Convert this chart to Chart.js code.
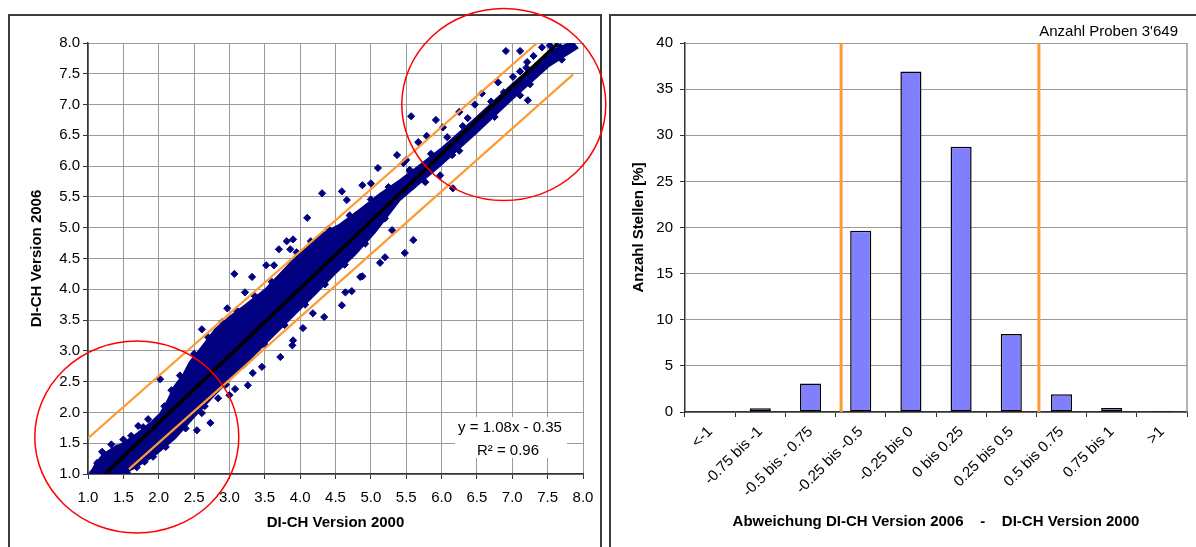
<!DOCTYPE html>
<html>
<head>
<meta charset="utf-8">
<script src="https://cdn.jsdelivr.net/npm/chart.js@4.4.1/dist/chart.umd.min.js"></script>
<style>
  html, body { margin: 0; padding: 0; background: #fff; overflow: hidden; }
  body { width: 1196px; height: 547px; position: relative; }
  .frame { position: absolute; border: 2px solid #3c3c3c; box-sizing: border-box; }
  #frameLeft { left: 8px; top: 14px; width: 594px; height: 600px; }
  #frameRight { left: 609px; top: 14px; width: 620px; height: 600px; }
  canvas { position: absolute; top: 0; }
  #scatter { left: 0; }
  #hist { left: 608px; }
</style>
</head>
<body>
<div class="frame" id="frameLeft"></div>
<div class="frame" id="frameRight"></div>
<canvas id="scatter" width="608" height="547"></canvas>
<canvas id="hist" width="588" height="547"></canvas>
<script>
// ---- left chart: DI-CH 2000 vs 2006 ----
// dense core of the cloud (upper edge left->right, then lower edge right->left)
const denseUpper = [[1.03,1.0],[1.1,1.15],[1.2,1.3],[1.35,1.42],[1.5,1.5],[1.7,1.66],[1.9,1.85],[2.02,1.98],
  [2.12,2.18],[2.22,2.42],[2.35,2.62],[2.44,2.82],[2.6,3.05],[2.8,3.35],[3.0,3.55],[3.22,3.74],[3.5,3.99],
  [3.79,4.34],[4.0,4.6],[4.28,4.88],[4.56,5.05],[4.85,5.3],[5.13,5.55],[5.41,5.77],[5.7,6.02],[5.99,6.28],
  [6.5,6.8],[7.0,7.33],[7.51,7.85],[7.85,8.02]];
const denseLower = [[7.92,7.92],[7.51,7.62],[7.0,7.09],[6.5,6.55],[5.99,6.02],[5.41,5.45],[5.06,4.93],
  [4.78,4.57],[4.49,4.25],[4.21,3.92],[3.93,3.6],[3.64,3.27],[3.36,2.95],[3.08,2.62],[2.8,2.3],[2.51,1.94],
  [2.23,1.58],[1.95,1.31],[1.66,1.1],[1.42,0.97],[1.1,0.97]];
// single samples visible around the core
const samplePoints = [
  [1.07,1.03],[1.13,1.18],[1.27,1.31],[1.41,1.42],[1.61,1.62],[1.71,1.78],[1.85,1.89],[2.02,2.54],
  [2.61,3.35],[2.97,3.69],[3.07,4.25],[3.22,3.95],[3.32,4.2],[3.52,4.39],[3.63,4.39],[3.7,4.65],
  [3.81,4.78],[3.9,4.81],[3.86,4.65],[1.69,1.11],[1.92,1.28],[2.33,1.76],[2.54,1.71],[2.61,1.99],
  [2.73,1.83],[2.84,2.23],[3.0,2.28],[3.08,2.38],[3.26,2.44],[3.33,2.64],[3.46,2.74],[3.72,2.9],
  [3.89,3.09],[3.9,3.17],[4.04,3.37],[4.18,3.61],[4.34,3.55],[4.59,3.74],[4.64,3.95],[4.73,3.97],
  [4.88,4.21],[4.1,5.16],[4.31,5.56],[4.59,5.59],[4.66,5.45],[4.88,5.69],[5.0,5.72],[5.1,5.97],
  [5.37,6.18],[5.5,6.1],[5.55,5.94],[5.6,5.69],[5.77,5.74],[5.67,6.39],[5.79,6.49],[5.92,6.75],
  [5.57,6.81],[5.98,5.85],[6.15,6.18],[6.16,5.64],[6.08,6.47],[6.25,6.88],[6.37,6.78],[6.47,7.0],
  [6.57,7.18],[6.66,6.83],[6.8,7.36],[6.88,7.2],[6.97,7.15],[7.11,7.15],[7.22,7.07],[7.01,7.45],
  [7.11,7.54],[7.3,7.53],[7.42,7.59],[7.21,7.69],[7.3,7.79],[7.49,7.72],[7.58,7.8],[6.91,7.87],
  [7.11,7.87],[7.42,7.93],[7.53,7.96],[7.83,7.98],[7.68,7.93],[6.02,6.63],[6.15,6.29],[5.46,6.05],
  [5.3,4.96],[5.6,4.8],[5.48,4.59],[5.13,4.43],[5.2,4.52],[4.85,4.2],
  // ragged upper rim of the core
  [1.2,1.36],[1.33,1.48],[1.5,1.56],[1.78,1.76],[2.08,2.1],[2.18,2.36],[2.3,2.6],[2.5,2.95],[2.7,3.22],
  [2.9,3.47],[3.1,3.66],[3.35,3.9],[3.6,4.12],[3.95,4.6],[4.15,4.78],[4.4,4.98],[4.7,5.2],[5.0,5.46],
  [5.25,5.66],[5.55,5.92],[5.85,6.2],[6.3,6.65],[6.7,7.05],[7.2,7.6],
  // ragged lower rim of the core
  [1.55,1.03],[1.8,1.2],[2.1,1.44],[2.38,1.74],[2.65,2.1],[2.95,2.45],[3.2,2.77],[3.5,3.1],[3.78,3.42],
  [4.07,3.75],[4.35,4.08],[4.63,4.4],[4.92,4.74],[5.2,5.15],[5.6,5.68],[6.25,6.25],[6.75,6.8],[7.25,7.33],
  [7.7,7.73]
];
const trendLine = [[1.24,1.0],[7.65,8.0]];
const upperLimit = [[1.0,1.58],[7.35,8.0]];
const lowerLimit = [[1.58,1.08],[7.86,7.49]];
const circleCenters = [[1.69,1.6],[6.88,7.0]];
const regressionText = 'y = 1.08x - 0.35';
const r2Text = 'R² = 0.96';

// ---- right chart: histogram of differences ----
const classLabels = ['<-1','-0.75 bis -1','-0.5 bis - 0.75','-0.25 bis -0.5','-0.25 bis 0','0 bis 0.25',
  '0.25 bis 0.5','0.5 bis 0.75','0.75 bis 1','>1'];
const sharePercent = [0, 0.4, 3.1, 19.65, 36.9, 28.75, 8.46, 1.92, 0.43, 0.1];
const limitPositions = [2.61, 6.55];   // orange markers, in category units
const sampleCountText = "Anzahl Proben 3'649";

const FONT = "'Liberation Sans', Arial, sans-serif";
const NAVY = '#000080';
const ORANGE = '#FF9A33';
const GRID = '#9a9a9a';
const AXIS = '#333333';

const xy = arr => arr.map(p => ({x: p[0], y: p[1]}));

const eqBox = {
  id: 'eqBox',
  beforeDatasetsDraw(chart) {
    const {ctx, chartArea: a} = chart;
    ctx.save();
    ctx.fillStyle = '#fff';
    ctx.fillRect(a.right - 128, a.bottom - 57, 112, 41);
    ctx.fillStyle = '#000';
    ctx.font = '15px ' + FONT;
    ctx.textAlign = 'center';
    ctx.textBaseline = 'middle';
    ctx.fillText(regressionText, a.right - 73, a.bottom - 46);
    ctx.fillText(r2Text, a.right - 75, a.bottom - 23);
    ctx.restore();
  },
  // red rings marking both ends of the range
  afterDatasetsDraw(chart) {
    const {ctx, scales} = chart;
    ctx.save();
    ctx.strokeStyle = '#FF0000';
    ctx.lineWidth = 1.5;
    circleCenters.forEach(c => {
      ctx.beginPath();
      ctx.ellipse(scales.x.getPixelForValue(c[0]), scales.y.getPixelForValue(c[1]), 102, 96, 0, 0, Math.PI * 2);
      ctx.stroke();
    });
    ctx.restore();
  }
};

new Chart(document.getElementById('scatter'), {
  type: 'scatter',
  data: {
    datasets: [
      { type: 'line', data: xy(upperLimit), borderColor: ORANGE, borderWidth: 2.2, pointRadius: 0, fill: false },
      { type: 'line', data: xy(lowerLimit), borderColor: ORANGE, borderWidth: 2.2, pointRadius: 0, fill: false },
      { type: 'line', data: xy(trendLine), borderColor: '#000', borderWidth: 3.5, pointRadius: 0, fill: false },
      { data: xy(samplePoints), pointStyle: 'rectRot', pointRadius: 3.6,
        backgroundColor: NAVY, borderColor: NAVY, borderWidth: 1 },
      { type: 'line', data: xy(denseUpper.concat(denseLower)), borderColor: NAVY, borderWidth: 2,
        backgroundColor: NAVY, pointRadius: 0, fill: 'shape', tension: 0 }
    ]
  },
  options: {
    responsive: false,
    animation: false,
    events: [],
    layout: { padding: { top: 43, right: 25, left: 0, bottom: 0 } },
    plugins: { legend: { display: false }, tooltip: { enabled: false } },
    scales: {
      x: {
        type: 'linear', min: 1, max: 8,
        afterFit: s => { s.height = 73; },
        ticks: { stepSize: 0.5, callback: v => v.toFixed(1), color: '#000', font: { family: FONT, size: 15 },
                 padding: 10, maxRotation: 0, autoSkip: false },
        grid: { color: GRID, lineWidth: 1, tickLength: 5, tickColor: AXIS },
        border: { color: AXIS, width: 1.5 },
        title: { display: true, text: 'DI-CH Version 2000', color: '#000',
                 font: { family: FONT, size: 15, weight: 'bold' }, padding: { top: 0, bottom: 15 } }
      },
      y: {
        type: 'linear', min: 1, max: 8,
        afterFit: s => { s.width = 88; },
        ticks: { stepSize: 0.5, callback: v => v.toFixed(1), color: '#000', font: { family: FONT, size: 15 },
                 padding: 3, autoSkip: false },
        grid: { color: GRID, lineWidth: 1, tickLength: 5, tickColor: AXIS },
        border: { color: AXIS, width: 1.5 },
        title: { display: true, text: 'DI-CH Version 2006', color: '#000',
                 font: { family: FONT, size: 15, weight: 'bold' }, padding: { top: 28, bottom: 0 } }
      }
    }
  },
  plugins: [eqBox]
});

const histDecor = {
  id: 'histDecor',
  afterDraw(chart) {
    const {ctx, chartArea: a} = chart;
    ctx.save();
    ctx.strokeStyle = GRID;
    ctx.lineWidth = 1.5;
    ctx.beginPath();
    ctx.moveTo(a.right, a.top);
    ctx.lineTo(a.right, a.bottom);
    ctx.stroke();
    ctx.fillStyle = '#000';
    ctx.font = '15px ' + FONT;
    ctx.textAlign = 'right';
    ctx.textBaseline = 'middle';
    ctx.fillText(sampleCountText, a.right - 9, a.top - 11);
    ctx.restore();
  }
};

new Chart(document.getElementById('hist'), {
  type: 'bar',
  data: {
    labels: classLabels,
    datasets: [{
      type: 'bar', data: sharePercent, backgroundColor: '#8080FF', borderColor: '#000', grouped: false,
      borderWidth: 1.5, borderSkipped: false, barPercentage: 0.42, categoryPercentage: 1, order: 2
    }].concat(limitPositions.map(p => ({
      type: 'line', xAxisID: 'xl', data: [{x: p, y: 0}, {x: p, y: 40}],
      borderColor: ORANGE, borderWidth: 3, pointRadius: 0, fill: false, order: 1
    })))
  },
  options: {
    responsive: false,
    animation: false,
    events: [],
    layout: { padding: { top: 43, right: 9, left: 0, bottom: 0 } },
    plugins: { legend: { display: false }, tooltip: { enabled: false } },
    scales: {
      x: {
        afterFit: s => { s.height = 135; },
        ticks: { minRotation: 45, maxRotation: 45, autoSkip: false, color: '#000',
                 font: { family: FONT, size: 15 }, padding: 6 },
        grid: { drawOnChartArea: false, offset: true, tickLength: 5, tickColor: AXIS },
        border: { color: AXIS, width: 1.5 },
        title: { display: true, text: 'Abweichung DI-CH Version 2006    -    DI-CH Version 2000', color: '#000',
                 font: { family: FONT, size: 15, weight: 'bold' }, padding: { top: 0, bottom: 16 } }
      },
      xl: { type: 'linear', display: false, offset: false, min: -0.5, max: 9.5 },
      y: {
        min: 0, max: 40,
        afterFit: s => { s.width = 77; },
        ticks: { stepSize: 5, color: '#000', font: { family: FONT, size: 15 }, padding: 7 },
        grid: { color: GRID, lineWidth: 1, tickLength: 5, tickColor: AXIS },
        border: { color: AXIS, width: 1.5 },
        title: { display: true, text: 'Anzahl Stellen [%]', color: '#000',
                 font: { family: FONT, size: 15, weight: 'bold' }, padding: { top: 22, bottom: 0 } }
      }
    }
  },
  plugins: [histDecor]
});
</script>
</body>
</html>
